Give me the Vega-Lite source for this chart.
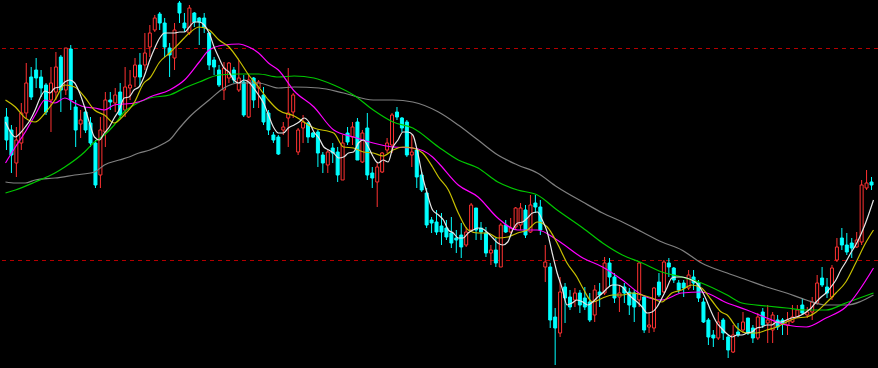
{
"$schema": "https://vega.github.io/schema/vega-lite/v6.json",
"width": 878, "height": 368, "padding": 0, "autosize": {"type": "none"},
"background": "#000000",
"view": {"stroke": null, "fill": "#000000"},
"config": {"axis": {"disable": true}},
"datasets": {
"k": [
{"i":0,"o":117,"h":108,"l":150,"c":140},{"i":1,"o":130,"h":125,"l":173,"c":155},{"i":2,"o":163,"h":127,"l":177,"c":140},{"i":3,"o":143,"h":103,"l":150,"c":113},{"i":4,"o":113,"h":63,"l":118,"c":83},
{"i":5,"o":77,"h":67,"l":100,"c":97},{"i":6,"o":70,"h":58,"l":88,"c":78},{"i":7,"o":77,"h":70,"l":97,"c":88},{"i":8,"o":85,"h":83,"l":115,"c":112},{"i":9,"o":100,"h":67,"l":132,"c":83},
{"i":10,"o":92,"h":52,"l":100,"c":67},{"i":11,"o":57,"h":55,"l":112,"c":90},{"i":12,"o":90,"h":48,"l":95,"c":48},{"i":13,"o":49,"h":45,"l":110,"c":100},{"i":14,"o":107,"h":100,"l":147,"c":130},
{"i":15,"o":124,"h":110,"l":138,"c":120},{"i":16,"o":112,"h":107,"l":133,"c":130},{"i":17,"o":123,"h":117,"l":147,"c":143},{"i":18,"o":143,"h":140,"l":188,"c":185},{"i":19,"o":175,"h":117,"l":188,"c":130},
{"i":20,"o":132,"h":92,"l":147,"c":100},{"i":21,"o":100,"h":92,"l":110,"c":102},{"i":22,"o":103,"h":88,"l":112,"c":95},{"i":23,"o":92,"h":83,"l":118,"c":115},{"i":24,"o":110,"h":67,"l":117,"c":87},
{"i":25,"o":88,"h":70,"l":100,"c":85},{"i":26,"o":77,"h":58,"l":87,"c":65},{"i":27,"o":65,"h":53,"l":87,"c":77},{"i":28,"o":65,"h":33,"l":70,"c":53},{"i":29,"o":47,"h":25,"l":57,"c":33},
{"i":30,"o":30,"h":15,"l":32,"c":18},{"i":31,"o":14,"h":12,"l":30,"c":23},{"i":32,"o":23,"h":18,"l":57,"c":47},{"i":33,"o":48,"h":43,"l":77,"c":55},{"i":34,"o":58,"h":23,"l":70,"c":30},
{"i":35,"o":3,"h":1,"l":23,"c":13},{"i":36,"o":23,"h":13,"l":32,"c":28},{"i":37,"o":33,"h":5,"l":35,"c":8},{"i":38,"o":13,"h":12,"l":27,"c":22},{"i":39,"o":18,"h":17,"l":45,"c":22},
{"i":40,"o":18,"h":13,"l":33,"c":27},{"i":41,"o":33,"h":32,"l":70,"c":65},{"i":42,"o":60,"h":57,"l":75,"c":67},{"i":43,"o":70,"h":65,"l":87,"c":85},{"i":44,"o":90,"h":62,"l":100,"c":68},
{"i":45,"o":78,"h":62,"l":83,"c":63},{"i":46,"o":70,"h":67,"l":83,"c":80},{"i":47,"o":90,"h":60,"l":92,"c":78},{"i":48,"o":82,"h":75,"l":117,"c":115},{"i":49,"o":117,"h":75,"l":118,"c":80},
{"i":50,"o":78,"h":77,"l":108,"c":100},{"i":51,"o":88,"h":80,"l":108,"c":82},{"i":52,"o":95,"h":87,"l":125,"c":122},{"i":53,"o":113,"h":110,"l":135,"c":130},{"i":54,"o":135,"h":132,"l":143,"c":140},
{"i":55,"o":137,"h":135,"l":155,"c":154},{"i":56,"o":130,"h":122,"l":135,"c":127},{"i":57,"o":118,"h":68,"l":147,"c":113},{"i":58,"o":112,"h":93,"l":118,"c":95},{"i":59,"o":152,"h":128,"l":155,"c":130},
{"i":60,"o":128,"h":115,"l":143,"c":122},{"i":61,"o":123,"h":122,"l":143,"c":137},{"i":62,"o":133,"h":132,"l":138,"c":137},{"i":63,"o":132,"h":130,"l":167,"c":153},{"i":64,"o":155,"h":152,"l":173,"c":163},
{"i":65,"o":165,"h":150,"l":173,"c":152},{"i":66,"o":148,"h":143,"l":163,"c":153},{"i":67,"o":152,"h":147,"l":182,"c":175},{"i":68,"o":180,"h":135,"l":180,"c":143},{"i":69,"o":133,"h":127,"l":145,"c":142},
{"i":70,"o":137,"h":122,"l":145,"c":127},{"i":71,"o":122,"h":118,"l":160,"c":160},{"i":72,"o":162,"h":130,"l":163,"c":133},{"i":73,"o":128,"h":113,"l":180,"c":175},{"i":74,"o":173,"h":167,"l":188,"c":178},
{"i":75,"o":182,"h":163,"l":207,"c":167},{"i":76,"o":172,"h":152,"l":173,"c":153},{"i":77,"o":150,"h":138,"l":153,"c":143},{"i":78,"o":145,"h":113,"l":153,"c":115},{"i":79,"o":112,"h":107,"l":120,"c":117},
{"i":80,"o":118,"h":117,"l":132,"c":128},{"i":81,"o":122,"h":120,"l":157,"c":155},{"i":82,"o":155,"h":135,"l":167,"c":152},{"i":83,"o":150,"h":148,"l":188,"c":177},{"i":84,"o":175,"h":172,"l":192,"c":190},
{"i":85,"o":193,"h":188,"l":228,"c":225},{"i":86,"o":220,"h":217,"l":233,"c":223},{"i":87,"o":222,"h":210,"l":235,"c":232},{"i":88,"o":226,"h":213,"l":245,"c":232},{"i":89,"o":228,"h":220,"l":240,"c":237},
{"i":90,"o":233,"h":217,"l":248,"c":243},{"i":91,"o":238,"h":230,"l":253,"c":240},{"i":92,"o":235,"h":223,"l":258,"c":247},{"i":93,"o":245,"h":227,"l":247,"c":232},{"i":94,"o":230,"h":203,"l":232,"c":205},
{"i":95,"o":208,"h":208,"l":240,"c":230},{"i":96,"o":228,"h":222,"l":240,"c":232},{"i":97,"o":233,"h":227,"l":257,"c":253},{"i":98,"o":253,"h":245,"l":265,"c":250},{"i":99,"o":250,"h":238,"l":267,"c":263},
{"i":100,"o":267,"h":223,"l":267,"c":225},{"i":101,"o":225,"h":220,"l":233,"c":232},{"i":102,"o":232,"h":218,"l":233,"c":228},{"i":103,"o":227,"h":207,"l":230,"c":208},{"i":104,"o":225,"h":203,"l":230,"c":208},
{"i":105,"o":210,"h":205,"l":238,"c":235},{"i":106,"o":232,"h":195,"l":233,"c":205},{"i":107,"o":203,"h":195,"l":213,"c":207},{"i":108,"o":207,"h":200,"l":235,"c":230},{"i":109,"o":267,"h":245,"l":282,"c":262},
{"i":110,"o":267,"h":263,"l":328,"c":320},{"i":111,"o":317,"h":308,"l":365,"c":328},{"i":112,"o":333,"h":277,"l":337,"c":292},{"i":113,"o":287,"h":283,"l":323,"c":298},{"i":114,"o":297,"h":290,"l":310,"c":307},
{"i":115,"o":300,"h":288,"l":307,"c":293},{"i":116,"o":293,"h":290,"l":313,"c":305},{"i":117,"o":298,"h":287,"l":310,"c":307},{"i":118,"o":302,"h":293,"l":322,"c":320},{"i":119,"o":315,"h":285,"l":322,"c":290},
{"i":120,"o":292,"h":283,"l":307,"c":295},{"i":121,"o":293,"h":257,"l":295,"c":263},{"i":122,"o":263,"h":258,"l":287,"c":277},{"i":123,"o":277,"h":273,"l":303,"c":298},{"i":124,"o":297,"h":285,"l":312,"c":293},
{"i":125,"o":287,"h":283,"l":303,"c":293},{"i":126,"o":292,"h":288,"l":315,"c":305},{"i":127,"o":293,"h":290,"l":322,"c":307},{"i":128,"o":300,"h":262,"l":307,"c":263},{"i":129,"o":297,"h":295,"l":333,"c":330},
{"i":130,"o":327,"h":313,"l":333,"c":325},{"i":131,"o":328,"h":287,"l":332,"c":288},{"i":132,"o":282,"h":273,"l":297,"c":295},{"i":133,"o":292,"h":260,"l":293,"c":262},{"i":134,"o":263,"h":258,"l":277,"c":267},
{"i":135,"o":268,"h":267,"l":283,"c":280},{"i":136,"o":283,"h":280,"l":293,"c":290},{"i":137,"o":283,"h":280,"l":297,"c":288},{"i":138,"o":288,"h":270,"l":290,"c":275},{"i":139,"o":277,"h":270,"l":290,"c":283},
{"i":140,"o":283,"h":280,"l":302,"c":298},{"i":141,"o":302,"h":298,"l":323,"c":322},{"i":142,"o":320,"h":318,"l":345,"c":337},{"i":143,"o":335,"h":330,"l":347,"c":338},{"i":144,"o":338,"h":312,"l":340,"c":322},
{"i":145,"o":320,"h":318,"l":340,"c":333},{"i":146,"o":337,"h":335,"l":358,"c":350},{"i":147,"o":352,"h":325,"l":353,"c":335},{"i":148,"o":332,"h":323,"l":337,"c":335},{"i":149,"o":330,"h":312,"l":333,"c":322},
{"i":150,"o":318,"h":318,"l":335,"c":333},{"i":151,"o":328,"h":325,"l":343,"c":338},{"i":152,"o":338,"h":313,"l":340,"c":317},{"i":153,"o":312,"h":308,"l":328,"c":325},{"i":154,"o":323,"h":305,"l":343,"c":320},
{"i":155,"o":330,"h":312,"l":343,"c":315},{"i":156,"o":320,"h":315,"l":330,"c":327},{"i":157,"o":320,"h":318,"l":335,"c":323},{"i":158,"o":325,"h":312,"l":335,"c":320},{"i":159,"o":322,"h":305,"l":323,"c":317},
{"i":160,"o":317,"h":305,"l":318,"c":310},{"i":161,"o":305,"h":298,"l":315,"c":313},{"i":162,"o":315,"h":307,"l":318,"c":312},{"i":163,"o":312,"h":297,"l":320,"c":302},{"i":164,"o":303,"h":275,"l":305,"c":283},
{"i":165,"o":278,"h":267,"l":287,"c":285},{"i":166,"o":287,"h":278,"l":298,"c":293},{"i":167,"o":297,"h":265,"l":300,"c":268},{"i":168,"o":260,"h":238,"l":262,"c":247},{"i":169,"o":238,"h":228,"l":250,"c":245},
{"i":170,"o":245,"h":233,"l":255,"c":252},{"i":171,"o":243,"h":238,"l":258,"c":248},{"i":172,"o":247,"h":232,"l":248,"c":240},{"i":173,"o":242,"h":180,"l":245,"c":185},{"i":174,"o":188,"h":170,"l":190,"c":183},
{"i":175,"o":182,"h":177,"l":190,"c":185}
],
"m5": [
{"t":-0.2,"v":122},{"t":0.8,"v":132},{"t":1.8,"v":137},{"t":2.8,"v":133},{"t":3.8,"v":127},{"t":4.8,"v":120},{"t":5.8,"v":110},{"t":6.8,"v":98},{"t":7.8,"v":91},{"t":8.8,"v":93},
{"t":9.8,"v":88},{"t":10.8,"v":87},{"t":11.8,"v":82},{"t":12.8,"v":80},{"t":13.8,"v":83},{"t":14.8,"v":93},{"t":15.8,"v":107},{"t":16.8,"v":123},{"t":17.8,"v":137},{"t":18.8,"v":140},
{"t":19.8,"v":133},{"t":20.8,"v":127},{"t":21.8,"v":118},{"t":22.8,"v":110},{"t":23.8,"v":98},{"t":24.8,"v":97},{"t":25.8,"v":90},{"t":26.8,"v":87},{"t":27.8,"v":77},{"t":29,"v":60},
{"t":30,"v":48},{"t":31,"v":38},{"t":32,"v":33},{"t":33,"v":33},{"t":34,"v":33},{"t":35,"v":32},{"t":36,"v":32},{"t":37,"v":27},{"t":38,"v":22},{"t":39,"v":22},
{"t":40,"v":25},{"t":41,"v":33},{"t":42,"v":47},{"t":43,"v":58},{"t":44,"v":68},{"t":45,"v":72},{"t":46,"v":80},{"t":47,"v":83},{"t":48,"v":80},{"t":49,"v":82},
{"t":50,"v":88},{"t":51,"v":95},{"t":52,"v":103},{"t":53,"v":115},{"t":54,"v":127},{"t":55,"v":133},{"t":56,"v":133},{"t":57,"v":128},{"t":58.2,"v":125},{"t":59.2,"v":122},
{"t":60.2,"v":118},{"t":61.2,"v":122},{"t":62.2,"v":132},{"t":63.2,"v":138},{"t":64.2,"v":147},{"t":65.2,"v":150},{"t":66.2,"v":153},{"t":67.2,"v":158},{"t":68.2,"v":157},{"t":69.2,"v":153},
{"t":70.2,"v":152},{"t":71.2,"v":143},{"t":72.2,"v":140},{"t":73.2,"v":147},{"t":74.2,"v":157},{"t":75.2,"v":163},{"t":76.2,"v":160},{"t":77.2,"v":162},{"t":78.2,"v":147},{"t":79.2,"v":140},
{"t":80.2,"v":132},{"t":81.2,"v":132},{"t":82.2,"v":135},{"t":83.2,"v":153},{"t":84.2,"v":177},{"t":85.2,"v":195},{"t":86.2,"v":210},{"t":87.4,"v":215},{"t":88.4,"v":220},{"t":89.4,"v":230},
{"t":90.4,"v":233},{"t":91.4,"v":238},{"t":92.4,"v":238},{"t":93.4,"v":233},{"t":94.4,"v":230},{"t":95.4,"v":228},{"t":96.4,"v":229},{"t":97.4,"v":233},{"t":98.4,"v":238},{"t":99.4,"v":243},
{"t":100.4,"v":245},{"t":101.4,"v":242},{"t":102.4,"v":230},{"t":103.4,"v":223},{"t":104.4,"v":222},{"t":105.4,"v":218},{"t":106.4,"v":213},{"t":107.4,"v":212},{"t":108.4,"v":220},{"t":109.4,"v":232},
{"t":110.4,"v":253},{"t":111.4,"v":273},{"t":112.4,"v":288},{"t":113.4,"v":305},{"t":114.4,"v":303},{"t":115.4,"v":300},{"t":116.6,"v":302},{"t":117.6,"v":305},{"t":118.6,"v":302},{"t":119.6,"v":297},
{"t":120.6,"v":293},{"t":121.6,"v":288},{"t":122.6,"v":285},{"t":123.6,"v":285},{"t":124.6,"v":287},{"t":125.6,"v":293},{"t":126.6,"v":298},{"t":127.6,"v":302},{"t":128.6,"v":307},{"t":129.6,"v":313},
{"t":130.6,"v":312},{"t":131.6,"v":307},{"t":132.6,"v":298},{"t":133.6,"v":288},{"t":134.6,"v":278},{"t":135.6,"v":277},{"t":136.6,"v":277},{"t":137.6,"v":278},{"t":138.6,"v":280},{"t":139.6,"v":283},
{"t":140.6,"v":290},{"t":141.6,"v":300},{"t":142.6,"v":312},{"t":143.6,"v":322},{"t":144.6,"v":328},{"t":145.8,"v":334},{"t":146.8,"v":337},{"t":147.8,"v":335},{"t":148.8,"v":335},{"t":149.8,"v":333},
{"t":150.8,"v":332},{"t":151.8,"v":328},{"t":152.8,"v":327},{"t":153.8,"v":325},{"t":154.8,"v":325},{"t":155.8,"v":322},{"t":156.8,"v":322},{"t":157.8,"v":320},{"t":158.8,"v":318},{"t":159.8,"v":317},
{"t":160.8,"v":315},{"t":161.8,"v":312},{"t":162.8,"v":308},{"t":163.8,"v":302},{"t":164.8,"v":297},{"t":165.8,"v":293},{"t":166.8,"v":287},{"t":167.8,"v":280},{"t":168.8,"v":270},{"t":169.8,"v":262},
{"t":170.8,"v":253},{"t":171.8,"v":245},{"t":172.8,"v":235},{"t":173.8,"v":223},{"t":175.4,"v":200}
],
"m10": [
{"t":-0.2,"v":100},{"t":1.8,"v":107},{"t":3.8,"v":118},{"t":5.8,"v":122},{"t":7.8,"v":113},{"t":9.8,"v":100},{"t":11.8,"v":85},{"t":13.8,"v":87},{"t":15.8,"v":97},{"t":17.8,"v":110},
{"t":19.8,"v":115},{"t":21.8,"v":123},{"t":23.8,"v":115},{"t":25.8,"v":103},{"t":27.8,"v":83},{"t":29,"v":78},{"t":31,"v":62},{"t":33,"v":53},{"t":35,"v":43},{"t":37,"v":33},
{"t":39,"v":27},{"t":41,"v":30},{"t":43,"v":40},{"t":45,"v":47},{"t":47,"v":60},{"t":49,"v":75},{"t":51,"v":87},{"t":53,"v":100},{"t":55,"v":110},{"t":58.2,"v":116},
{"t":62.2,"v":128},{"t":66.2,"v":133},{"t":68.2,"v":147},{"t":70.2,"v":148},{"t":72.2,"v":152},{"t":74.2,"v":153},{"t":76.2,"v":156},{"t":78.2,"v":150},{"t":80.2,"v":147},{"t":82.2,"v":148},
{"t":84.2,"v":153},{"t":86.2,"v":167},{"t":87.4,"v":177},{"t":89.4,"v":190},{"t":91.4,"v":213},{"t":93.4,"v":230},{"t":95.4,"v":233},{"t":97.4,"v":233},{"t":99.4,"v":238},{"t":101.4,"v":237},
{"t":103.4,"v":233},{"t":105.4,"v":230},{"t":107.4,"v":222},{"t":109.4,"v":227},{"t":111.4,"v":243},{"t":113.4,"v":263},{"t":115.4,"v":277},{"t":116.6,"v":288},{"t":118.6,"v":302},{"t":120.6,"v":298},
{"t":122.6,"v":295},{"t":124.6,"v":295},{"t":126.6,"v":293},{"t":128.6,"v":295},{"t":130.6,"v":298},{"t":132.6,"v":302},{"t":134.6,"v":293},{"t":136.6,"v":290},{"t":138.6,"v":285},{"t":140.6,"v":288},
{"t":142.6,"v":300},{"t":144.6,"v":312},{"t":145.8,"v":315},{"t":147.8,"v":328},{"t":149.8,"v":333},{"t":151.8,"v":333},{"t":153.8,"v":330},{"t":155.8,"v":327},{"t":157.8,"v":322},{"t":159.8,"v":318},
{"t":161.8,"v":317},{"t":163.8,"v":312},{"t":165.8,"v":303},{"t":167.8,"v":293},{"t":169.8,"v":282},{"t":171.8,"v":263},{"t":173.8,"v":243},{"t":175.4,"v":230}
],
"m20": [
{"t":-0.2,"v":163},{"t":1.8,"v":147},{"t":3.8,"v":132},{"t":5.8,"v":115},{"t":7.8,"v":100},{"t":9.8,"v":103},{"t":11.8,"v":98},{"t":13.8,"v":103},{"t":15.8,"v":107},{"t":17.8,"v":108},
{"t":19.8,"v":110},{"t":21.8,"v":105},{"t":23.8,"v":104},{"t":25.8,"v":103},{"t":27.8,"v":100},{"t":29,"v":97},{"t":33,"v":90},{"t":36,"v":80},{"t":39,"v":62},{"t":41,"v":50},
{"t":44,"v":45},{"t":47,"v":44},{"t":49,"v":47},{"t":51,"v":53},{"t":53,"v":63},{"t":55,"v":70},{"t":58.2,"v":91},{"t":62.2,"v":107},{"t":66.2,"v":130},{"t":70.2,"v":137},
{"t":74.2,"v":143},{"t":78.2,"v":147},{"t":82.2,"v":148},{"t":86.2,"v":157},{"t":87.4,"v":163},{"t":91.4,"v":185},{"t":95.4,"v":197},{"t":99.4,"v":218},{"t":103.4,"v":230},{"t":107.4,"v":230},
{"t":111.4,"v":240},{"t":116.6,"v":258},{"t":120.6,"v":267},{"t":124.6,"v":280},{"t":128.6,"v":295},{"t":132.6,"v":300},{"t":136.6,"v":293},{"t":140.6,"v":292},{"t":145.8,"v":303},{"t":149.8,"v":310},
{"t":153.8,"v":318},{"t":157.8,"v":325},{"t":161.8,"v":327},{"t":165.8,"v":318},{"t":169.8,"v":307},{"t":175.4,"v":268}
],
"m60": [
{"t":-0.2,"v":193},{"t":1.8,"v":190},{"t":5.8,"v":182},{"t":9.8,"v":173},{"t":11.8,"v":167},{"t":15.8,"v":152},{"t":17.8,"v":142},{"t":19.8,"v":135},{"t":21.8,"v":125},{"t":23.8,"v":112},
{"t":25.8,"v":105},{"t":29,"v":98},{"t":33,"v":95},{"t":36,"v":88},{"t":39,"v":82},{"t":43,"v":75},{"t":47,"v":74},{"t":51,"v":74},{"t":55,"v":77},{"t":58.2,"v":76},
{"t":62.2,"v":78},{"t":66.2,"v":85},{"t":70.2,"v":95},{"t":74.2,"v":110},{"t":78.2,"v":122},{"t":82.2,"v":128},{"t":87.4,"v":147},{"t":91.4,"v":160},{"t":95.4,"v":168},{"t":99.4,"v":182},
{"t":103.4,"v":190},{"t":107.4,"v":195},{"t":111.4,"v":210},{"t":116.6,"v":228},{"t":120.6,"v":243},{"t":124.6,"v":255},{"t":128.6,"v":263},{"t":132.6,"v":272},{"t":136.6,"v":277},{"t":140.6,"v":283},
{"t":145.8,"v":295},{"t":148.8,"v":303},{"t":153.8,"v":306},{"t":157.8,"v":308},{"t":161.8,"v":310},{"t":165.8,"v":310},{"t":169.8,"v":303},{"t":175.4,"v":293}
],
"m120": [
{"t":-0.2,"v":182},{"t":1.8,"v":183},{"t":3.8,"v":183},{"t":5.8,"v":180},{"t":9.8,"v":178},{"t":13.8,"v":175},{"t":17.8,"v":172},{"t":19.8,"v":165},{"t":22.8,"v":160},{"t":24.8,"v":157},
{"t":26.8,"v":153},{"t":29,"v":150},{"t":32,"v":143},{"t":33,"v":140},{"t":35,"v":128},{"t":37,"v":117},{"t":41,"v":100},{"t":44,"v":88},{"t":47,"v":83},{"t":51,"v":83},
{"t":55,"v":88},{"t":58.2,"v":87},{"t":63.2,"v":88},{"t":68.2,"v":93},{"t":74.2,"v":100},{"t":78.2,"v":100},{"t":82.2,"v":102},{"t":87.4,"v":112},{"t":91.4,"v":125},{"t":95.4,"v":140},
{"t":99.4,"v":155},{"t":103.4,"v":165},{"t":107.4,"v":173},{"t":111.4,"v":187},{"t":116.6,"v":202},{"t":120.6,"v":213},{"t":124.6,"v":222},{"t":128.6,"v":232},{"t":132.6,"v":242},{"t":136.6,"v":250},
{"t":140.6,"v":263},{"t":145.8,"v":273},{"t":149.8,"v":280},{"t":153.8,"v":287},{"t":157.8,"v":293},{"t":161.8,"v":300},{"t":165.8,"v":305},{"t":169.8,"v":305},{"t":175.4,"v":295}
],
"lv": [{"p":48.5},{"p":260.5}]
},
"layer": [
{"data": {"name": "lv"}, "mark": {"type": "rule", "color": "#b40000", "strokeWidth": 1, "strokeDash": [4, 4]},
 "encoding": {"y": {"field": "p", "type": "quantitative", "scale": {"domain": [368, 0], "nice": false, "zero": false}}}},
{"data": {"name": "k"}, "mark": {"type": "rule", "strokeWidth": 1},
 "encoding": {
  "x": {"field": "i", "type": "quantitative", "scale": {"domain": [-0.3, 175.3], "nice": false, "zero": false}},
  "y": {"field": "h", "type": "quantitative", "scale": {"domain": [368, 0], "nice": false, "zero": false}},
  "y2": {"field": "l"},
  "color": {"condition": {"test": "datum.c < datum.o", "value": "#ff3232"}, "value": "#00ffff"}}},
{"data": {"name": "k"}, "mark": {"type": "bar", "size": 3, "strokeWidth": 1},
 "encoding": {
  "x": {"field": "i", "type": "quantitative", "scale": {"domain": [-0.3, 175.3], "nice": false, "zero": false}},
  "y": {"field": "o", "type": "quantitative", "scale": {"domain": [368, 0], "nice": false, "zero": false}},
  "y2": {"field": "c"},
  "fill": {"condition": {"test": "datum.c < datum.o", "value": "#000000"}, "value": "#00ffff"},
  "stroke": {"condition": {"test": "datum.c < datum.o", "value": "#ff3232"}, "value": "#00ffff"}}},
{"data": {"name": "m120"}, "mark": {"type": "line", "color": "#808080", "strokeWidth": 1.2, "interpolate": "monotone"},
 "encoding": {"x": {"field": "t", "type": "quantitative"}, "y": {"field": "v", "type": "quantitative"}}},
{"data": {"name": "m60"}, "mark": {"type": "line", "color": "#00c800", "strokeWidth": 1.2, "interpolate": "monotone"},
 "encoding": {"x": {"field": "t", "type": "quantitative"}, "y": {"field": "v", "type": "quantitative"}}},
{"data": {"name": "m20"}, "mark": {"type": "line", "color": "#ff00ff", "strokeWidth": 1.2, "interpolate": "monotone"},
 "encoding": {"x": {"field": "t", "type": "quantitative"}, "y": {"field": "v", "type": "quantitative"}}},
{"data": {"name": "m10"}, "mark": {"type": "line", "color": "#c8c000", "strokeWidth": 1.2, "interpolate": "monotone"},
 "encoding": {"x": {"field": "t", "type": "quantitative"}, "y": {"field": "v", "type": "quantitative"}}},
{"data": {"name": "m5"}, "mark": {"type": "line", "color": "#e6e6e6", "strokeWidth": 1.2, "interpolate": "monotone"},
 "encoding": {"x": {"field": "t", "type": "quantitative"}, "y": {"field": "v", "type": "quantitative"}}}
]
}
